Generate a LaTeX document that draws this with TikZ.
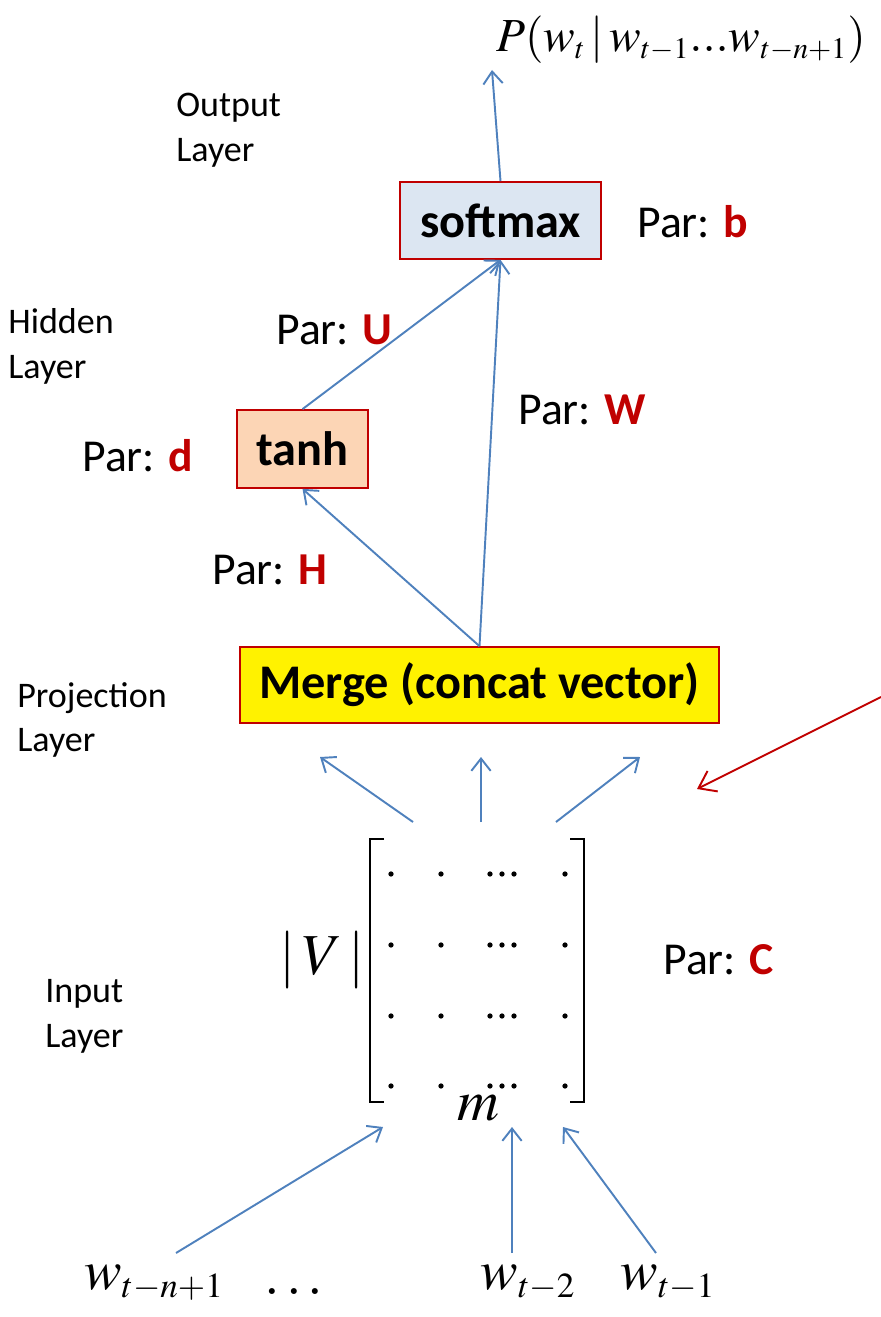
\documentclass[tikz,border=0pt]{standalone}
\usepackage{mathptmx}
\usepackage[no-math]{fontspec}
\setmainfont{Carlito}
\usetikzlibrary{arrows.meta}
\DeclareMathSizes{27}{27}{17}{13}
\DeclareMathSizes{32}{32}{20}{15}
\definecolor{parred}{HTML}{C00000}
\definecolor{arrblue}{HTML}{4F81BD}
\definecolor{smfill}{HTML}{DCE6F2}
\definecolor{thfill}{HTML}{FCD5B5}
\newcommand{\parof}[1]{Par: \textbf{\textcolor{parred}{#1}}}
\begin{document}
\begin{tikzpicture}[x=0.02cm, y=-0.02cm,
  arr/.style={-{Straight Barb[length=7pt,width=11pt]}, arrblue, line width=1.1pt},
  redarr/.style={-{Straight Barb[length=9pt,width=13pt]}, parred, line width=1.1pt},
  box/.style={draw=parred, line width=1pt, inner sep=0pt, font=\fontsize{27.5}{32}\selectfont\bfseries},
  lbl/.style={anchor=west, align=left, inner sep=0pt, font=\fontsize{20.5}{25.5}\selectfont},
  parnode/.style={anchor=west, inner sep=0pt, font=\fontsize{26}{30}\selectfont},
  mathbig/.style={inner sep=0pt, font=\fontsize{33}{36}\selectfont},
  word/.style={inner sep=0pt, font=\fontsize{32}{36}\selectfont}]
  \useasboundingbox (0,0) rectangle (881,1317);
  \node[inner sep=0pt, anchor=east, font=\fontsize{27}{32}\selectfont] (prob) at (866,40) {$P(w_t \,|\, w_{t{-}1}{.}{.}{.}w_{t{-}n{+}1})$};
  \node[box, fill=smfill, minimum width=4.02cm, minimum height=1.54cm] (smax) at (500.5,220.5) {softmax};
  \node[box, fill=thfill, minimum width=2.62cm, minimum height=1.56cm] (tanh) at (302.5,449) {tanh};
  \node[box, fill=yellow, minimum width=9.58cm, minimum height=1.52cm] (merge) at (479.5,685) {Merge (concat vector)};
  \node[lbl] (outl) at (176,130) {Output\\Layer};
  \node[lbl] (hidl) at (8,346) {Hidden\\Layer};
  \node[lbl] (prjl) at (17,720) {Projection\\Layer};
  \node[lbl] (inpl) at (45,1016) {Input\\Layer};
  \node[parnode] (parb) at (637,222) {\parof{b}};
  \node[parnode] (paru) at (276,330) {\parof{U}};
  \node[parnode] (pard) at (82,456) {\parof{d}};
  \node[parnode] (parw) at (518,410) {\parof{W}};
  \node[parnode] (parh) at (212,570) {\parof{H}};
  \node[parnode] (parc) at (663,960) {\parof{C}};
  \node[mathbig] (vsize) at (322,960) {$|\,V\,|$};
  \node[mathbig] (mdim) at (478,1108) {$m$};
  \draw[line width=0.9pt] (384,839) -- (370,839) -- (370,1102) -- (384,1102);
  \draw[line width=0.9pt] (570,839) -- (584,839) -- (584,1102) -- (570,1102);
  \foreach \y in {874,945,1016,1086}
    \foreach \x in {391,441,490,502,514,565}
      \fill (\x,\y) circle[radius=1.5pt];
  \node[word] (wn) at (154,1283) {$w_{t{-}n{+}1}$};
  \node[word] (wdots) at (294,1292) {$\ldots$};
  \node[word] (w2) at (528,1283) {$w_{t{-}2}$};
  \node[word] (w1) at (668,1283) {$w_{t{-}1}$};
  \coordinate (ptop) at (492,70);
  \coordinate (ma) at (413,822); \coordinate (mae) at (320,757);
  \coordinate (mb) at (481,822); \coordinate (mbe) at (481,757);
  \coordinate (mc) at (556,822); \coordinate (mce) at (640,757);
  \coordinate (rs) at (881,697); \coordinate (re) at (697,789);
  \coordinate (ba) at (176,1253); \coordinate (bae) at (383,1127);
  \coordinate (bb) at (512,1253); \coordinate (bbe) at (512,1127);
  \coordinate (bc) at (656,1253); \coordinate (bce) at (563,1127);
  \draw[arr] (smax.north) -- (ptop);
  \draw[arr] (tanh.north) -- (smax.south);
  \draw[arr] (merge.north) -- (smax.south);
  \draw[arr] (merge.north) -- (tanh.south);
  \draw[arr] (ma) -- (mae); \draw[arr] (mb) -- (mbe); \draw[arr] (mc) -- (mce);
  \draw[redarr] (rs) -- (re);
  \draw[arr] (ba) -- (bae); \draw[arr] (bb) -- (bbe); \draw[arr] (bc) -- (bce);
\end{tikzpicture}
\end{document}
